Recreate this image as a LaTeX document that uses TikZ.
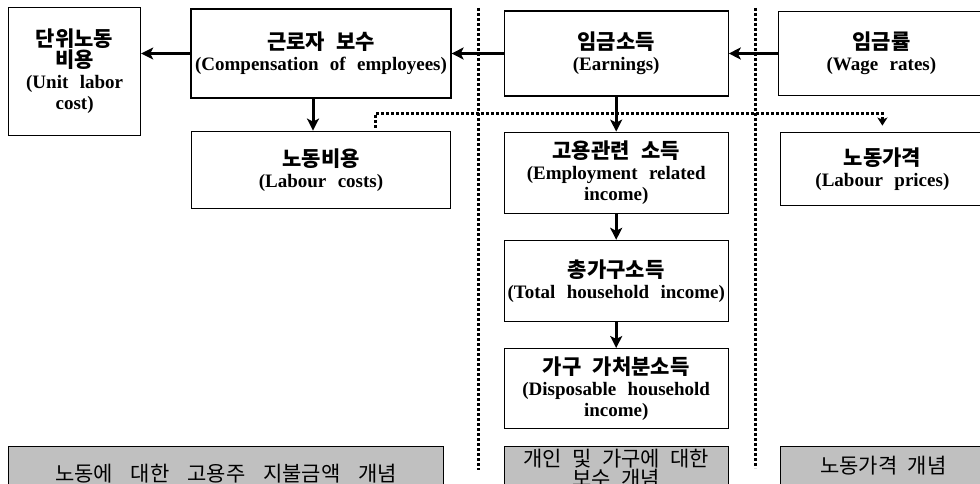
\documentclass[tikz,border=0pt]{standalone}
\usepackage{fontspec}
\setmainfont{Liberation Serif}
\newfontfamily\kr{Noto Sans CJK KR}
\usetikzlibrary{positioning,calc,arrows.meta}
\definecolor{conceptgray}{RGB}{192,192,192}
\newcommand{\krtext}[1]{{\kr\fontsize{21}{21}\selectfont #1}}
\tikzset{
    block/.style = {
        rectangle, draw, fill=white, line width=1.2pt,
        align=center, inner sep=2pt,
        font={\bfseries\fontsize{19}{21}\selectfont\spaceskip=0.6em\relax}
    },
    concept/.style = {
        block, fill=conceptgray,
        font={\kr\fontsize{21}{19}\selectfont\spaceskip=0.5em\relax}
    },
    line/.style    = {draw, -{Stealth[length=12pt,width=12pt,inset=3pt]}, line width=3pt},
    dotline/.style = {draw, line width=3pt, dash pattern=on 3pt off 2pt}
}
\begin{document}
\begin{tikzpicture}[x=1pt, y=-1pt]
  \useasboundingbox (0,0) rectangle (980,484);
  \fill [white] (0,0) rectangle (980,484);
  \clip (0,0) rectangle (980,484);

  \node [block, minimum width=260pt, minimum height=89pt] (comp) at (321,53.5)
        {\krtext{근로자 보수}\\(Compensation of employees)};
  \node [block, anchor=north west, minimum width=132pt, minimum height=128pt] (ulc) at (8,7)
        {\krtext{단위노동}\\\krtext{비용}\\(Unit labor\\cost)};
  \node [block, below=32pt of comp, minimum width=259pt, minimum height=77pt] (lab)
        {\krtext{노동비용}\\(Labour costs)};
  \node [block, right=52pt of comp, minimum width=224pt, minimum height=85pt] (earn)
        {\krtext{임금소득}\\(Earnings)};
  \node [block, right=49pt of earn, minimum width=206pt, minimum height=84pt] (wage)
        {\krtext{임금률}\\(Wage rates)};
  \node [block, below=35pt of earn, minimum width=224pt, minimum height=81pt] (emp)
        {\krtext{고용관련 소득}\\(Employment related\\income)};
  \node [block, below=26pt of emp, minimum width=224pt, minimum height=81pt] (tot)
        {\krtext{총가구소득}\\(Total household income)};
  \node [block, below=26pt of tot, minimum width=224pt, minimum height=80pt] (disp)
        {\krtext{가구 가처분소득}\\(Disposable household\\income)};
  \node [block, anchor=north west, minimum width=204pt, minimum height=73pt] (labp)
        at ($(emp.north east)+(51,0)$) {\krtext{노동가격}\\(Labour prices)};

  % concept labels
  \node [concept, below=17pt of disp, minimum width=224pt, minimum height=40pt] (cind)
        {개인 및 가구에 대한\\보수 개념};
  \node [concept, anchor=north west, minimum width=435pt, minimum height=54pt,
         font={\kr\fontsize{21}{19}\selectfont\spaceskip=0.85em\relax}] (cemp)
        at (cind.north -| ulc.west) {노동에 대한 고용주 지불금액 개념};
  \node [concept, anchor=north west, minimum width=206pt, minimum height=38pt] (cprice)
        at (cind.north -| labp.west) {노동가격 개념};

  \path [line] (comp.west) -- (comp.west -| ulc.east);
  \path [line] (earn.west) -- (earn.west -| comp.east);
  \path [line] (wage.west) -- (wage.west -| earn.east);
  \path [line] ($(comp.south)+(-8,0)$) -- ($(comp.south |- lab.north)+(-8,0)$);
  \path [line] (earn) -- (emp);
  \path [line] (emp) -- (tot);
  \path [line] (tot) -- (disp);

  % separators
  \draw [dotline] (478,8) -- (478,470);
  \draw [dotline] (755,8) -- (755,468);

  \coordinate (dstart) at ($(lab.north east)+(-76,-3)$);
  \draw [dotline, -{Stealth[length=8pt,width=10pt,inset=2pt]}]
    (dstart) |- ($(labp.north)+(0,-18)$) -- ($(labp.north)+(0,-6)$);
\end{tikzpicture}
\end{document}
